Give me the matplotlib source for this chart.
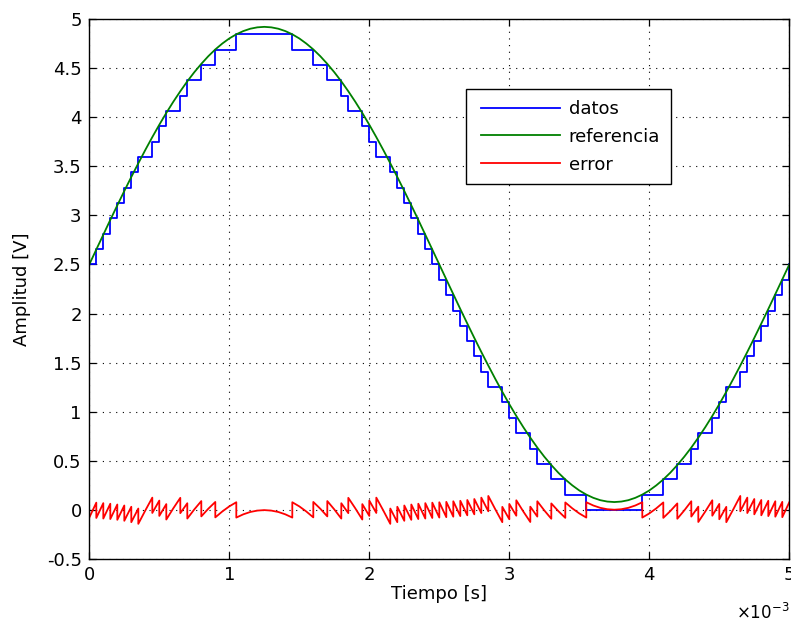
import matplotlib
matplotlib.use("Agg")
import matplotlib.pyplot as plt
from matplotlib.lines import Line2D
from matplotlib.legend_handler import HandlerLine2D

plt.rcParams['font.family'] = ['DejaVu Sans']
plt.rcParams['axes.unicode_minus'] = False
plt.rcParams['mathtext.fontset'] = 'dejavusans'

# ---- data (time in ms, amplitudes in V) ----
t_ms = [0.00, 0.05, 0.10, 0.15, 0.20, 0.25, 0.30, 0.35, 0.40, 0.45,
        0.50, 0.55, 0.60, 0.65, 0.70, 0.75, 0.80, 0.85, 0.90, 0.95,
        1.00, 1.05, 1.10, 1.15, 1.20, 1.25, 1.30, 1.35, 1.40, 1.45,
        1.50, 1.55, 1.60, 1.65, 1.70, 1.75, 1.80, 1.85, 1.90, 1.95,
        2.00, 2.05, 2.10, 2.15, 2.20, 2.25, 2.30, 2.35, 2.40, 2.45,
        2.50, 2.55, 2.60, 2.65, 2.70, 2.75, 2.80, 2.85, 2.90, 2.95,
        3.00, 3.05, 3.10, 3.15, 3.20, 3.25, 3.30, 3.35, 3.40, 3.45,
        3.50, 3.55, 3.60, 3.65, 3.70, 3.75, 3.80, 3.85, 3.90, 3.95,
        4.00, 4.05, 4.10, 4.15, 4.20, 4.25, 4.30, 4.35, 4.40, 4.45,
        4.50, 4.55, 4.60, 4.65, 4.70, 4.75, 4.80, 4.85, 4.90, 4.95,
        5.00]

referencia = [2.500, 2.652, 2.803, 2.954, 3.102, 3.248, 3.391, 3.530, 3.666, 3.797,
              3.923, 4.043, 4.157, 4.264, 4.365, 4.458, 4.543, 4.621, 4.690, 4.750,
              4.802, 4.844, 4.877, 4.901, 4.915, 4.920, 4.915, 4.901, 4.877, 4.844,
              4.802, 4.750, 4.690, 4.621, 4.543, 4.458, 4.365, 4.264, 4.157, 4.043,
              3.923, 3.797, 3.666, 3.530, 3.391, 3.248, 3.102, 2.954, 2.803, 2.652,
              2.500, 2.348, 2.197, 2.046, 1.898, 1.752, 1.609, 1.470, 1.334, 1.203,
              1.077, 0.957, 0.843, 0.736, 0.635, 0.542, 0.457, 0.379, 0.310, 0.250,
              0.198, 0.156, 0.123, 0.099, 0.085, 0.080, 0.085, 0.099, 0.123, 0.156,
              0.198, 0.250, 0.310, 0.379, 0.457, 0.542, 0.635, 0.736, 0.843, 0.957,
              1.077, 1.203, 1.334, 1.470, 1.609, 1.752, 1.898, 2.046, 2.197, 2.348,
              2.500]

datos = [2.500, 2.656, 2.813, 2.969, 3.125, 3.281, 3.438, 3.594, 3.594, 3.750,
         3.906, 4.063, 4.063, 4.219, 4.375, 4.375, 4.531, 4.531, 4.688, 4.688,
         4.688, 4.844, 4.844, 4.844, 4.844, 4.844, 4.844, 4.844, 4.844, 4.688,
         4.688, 4.688, 4.531, 4.531, 4.375, 4.375, 4.219, 4.063, 4.063, 3.906,
         3.750, 3.594, 3.594, 3.438, 3.281, 3.125, 2.969, 2.813, 2.656, 2.500,
         2.344, 2.188, 2.031, 1.875, 1.719, 1.563, 1.406, 1.250, 1.250, 1.094,
         0.938, 0.781, 0.781, 0.625, 0.469, 0.469, 0.313, 0.313, 0.156, 0.156,
         0.156, 0.000, 0.000, 0.000, 0.000, 0.000, 0.000, 0.000, 0.000, 0.156,
         0.156, 0.156, 0.313, 0.313, 0.469, 0.469, 0.625, 0.781, 0.781, 0.938,
         1.094, 1.250, 1.250, 1.406, 1.563, 1.719, 1.875, 2.031, 2.188, 2.344,
         2.500]

# error at the start and at the end of each sampling interval
error_inicio = [-0.078, -0.082, -0.088, -0.093, -0.101, -0.111, -0.125, -0.142, -0.006, -0.031,
                -0.061, -0.098, 0.016, -0.033, -0.088, 0.005, -0.066, 0.012, -0.076, -0.016,
                0.036, -0.078, -0.045, -0.021, -0.007, -0.002, -0.007, -0.021, -0.045, 0.078,
                0.036, -0.016, 0.081, 0.012, 0.090, 0.005, 0.068, 0.123, 0.016, 0.059,
                0.095, 0.125, -0.006, 0.014, 0.032, 0.045, 0.055, 0.063, 0.069, 0.074,
                0.078, 0.082, 0.088, 0.093, 0.101, 0.111, 0.125, 0.142, 0.006, 0.031,
                0.061, 0.098, -0.016, 0.033, 0.088, -0.005, 0.066, -0.012, 0.076, 0.016,
                -0.036, 0.078, 0.045, 0.021, 0.007, 0.002, 0.007, 0.021, 0.045, -0.078,
                -0.036, 0.016, -0.081, -0.012, -0.090, -0.005, -0.068, -0.123, -0.016, -0.059,
                -0.095, -0.125, 0.006, -0.014, -0.032, -0.045, -0.055, -0.063, -0.069, -0.074]

error_fin = [0.074, 0.069, 0.063, 0.055, 0.045, 0.032, 0.014, -0.006, 0.125, 0.095,
             0.059, 0.016, 0.123, 0.068, 0.005, 0.090, 0.012, 0.081, -0.016, 0.036,
             0.078, -0.045, -0.021, -0.007, -0.002, -0.007, -0.021, -0.045, -0.078, 0.036,
             -0.016, -0.076, 0.012, -0.066, 0.005, -0.088, -0.033, 0.016, -0.098, -0.061,
             -0.031, -0.006, -0.142, -0.125, -0.111, -0.101, -0.093, -0.088, -0.082, -0.078,
             -0.074, -0.069, -0.063, -0.055, -0.045, -0.032, -0.014, 0.006, -0.125, -0.095,
             -0.059, -0.016, -0.123, -0.068, -0.005, -0.090, -0.012, -0.081, 0.016, -0.036,
             -0.078, 0.045, 0.021, 0.007, 0.002, 0.007, 0.021, 0.045, 0.078, -0.036,
             0.016, 0.076, -0.012, 0.066, -0.005, 0.088, 0.033, -0.016, 0.098, 0.061,
             0.031, 0.006, 0.142, 0.125, 0.111, 0.101, 0.093, 0.088, 0.082, 0.078]

x_ticks = [0, 1, 2, 3, 4, 5]
x_ticklabels = ['0', '1', '2', '3', '4', '5']
y_ticks = [-0.5, 0, 0.5, 1, 1.5, 2, 2.5, 3, 3.5, 4, 4.5, 5]
y_ticklabels = ['-0.5', '0', '0.5', '1', '1.5', '2', '2.5', '3', '3.5', '4', '4.5', '5']

# sawtooth polyline of the error
err_t, err_v = [], []
for k in range(len(error_inicio)):
    err_t += [t_ms[k], t_ms[k + 1]]
    err_v += [error_inicio[k], error_fin[k]]

FS = 13
W, H = 791, 623
fig = plt.figure(figsize=(W / 100, H / 100), dpi=100)
fig.patch.set_facecolor('white')
ax = fig.add_axes([89.3 / W, (H - 559) / H, 700 / W, 540 / H])

LW = 1.3
ax.step(t_ms, datos, where='post', color=(0, 0, 1), lw=LW, label='datos')
ax.plot(t_ms, referencia, color=(0, 0.5, 0), lw=LW, label='referencia')
ax.plot(err_t, err_v, color=(1, 0, 0), lw=LW, label='error')

ax.set_xlim(0, 5)
ax.set_ylim(-0.5, 5)
ax.set_xticks(x_ticks)
ax.set_xticklabels(x_ticklabels)
ax.set_yticks(y_ticks)
ax.set_yticklabels(y_ticklabels)
ax.tick_params(direction='in', top=True, right=True, length=5, width=0.9,
               labelsize=FS, colors='black')
ax.tick_params(axis='x', pad=5.0)
ax.tick_params(axis='y', pad=5.5)
for s in ax.spines.values():
    s.set_linewidth(1.0)
    s.set_color('black')
ax.set_axisbelow(True)
ax.grid(True, color='black', linestyle=(0, (1, 5)), linewidth=0.8)

fs_px = FS * 100 / 72
bp = 0.6
xpad_px = 480.7 - 466 - bp * fs_px
leg = ax.legend(loc='upper left', bbox_to_anchor=(0.538, 0.870), borderaxespad=0,
                fancybox=False, shadow=False, edgecolor='black', framealpha=1,
                handlelength=(79 + xpad_px) / fs_px, handletextpad=9 / fs_px,
                borderpad=bp, labelspacing=0.54, fontsize=FS,
                handler_map={Line2D: HandlerLine2D(xpad=xpad_px / fs_px)})
leg.get_frame().set_linewidth(1.0)

fig.text(22 / W, 1 - 289 / H, 'Amplitud [V]', rotation=90, ha='center', va='center',
         fontsize=FS)
fig.text(439 / W, 1 - 594 / H, 'Tiempo [s]', ha='center', va='center', fontsize=FS)
fig.text(789 / W, 1 - 619 / H, r'$\times10^{-3}$', ha='right', va='baseline',
         fontsize=12)

fig.savefig('out.png', dpi=100, facecolor='white')
